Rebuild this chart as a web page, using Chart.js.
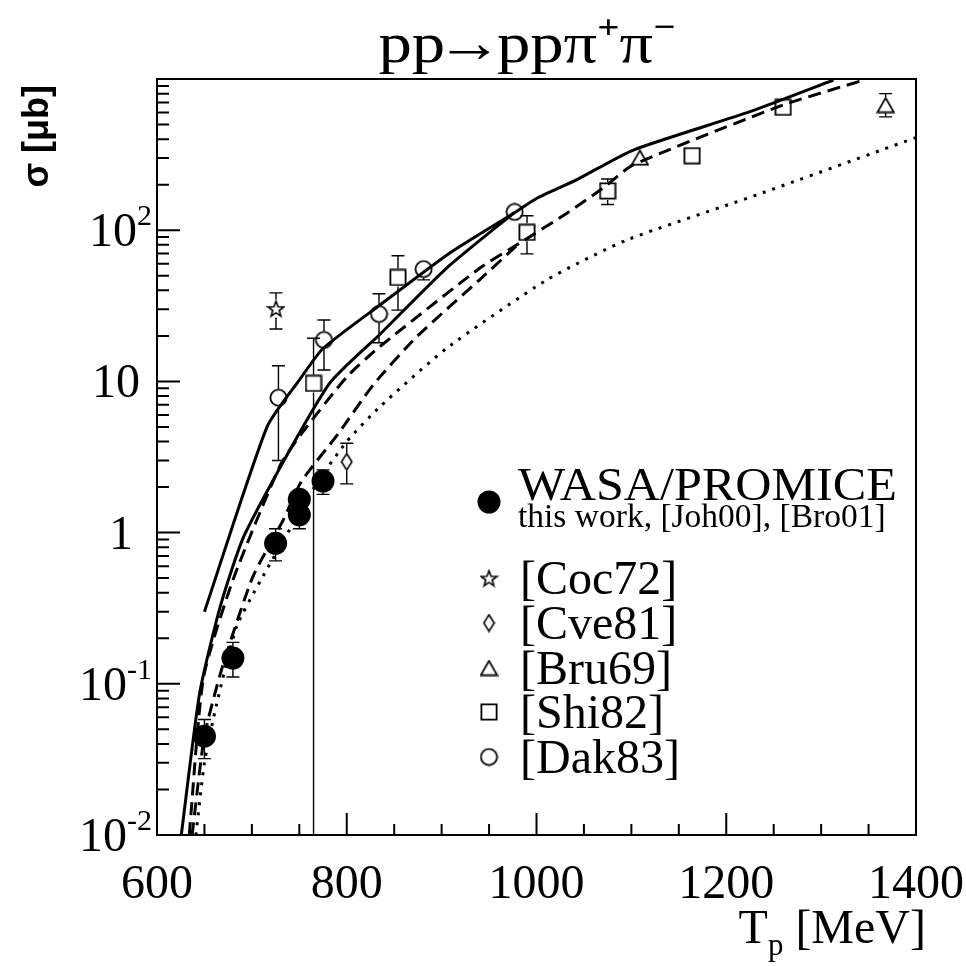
<!DOCTYPE html>
<html>
<head>
<meta charset="utf-8">
<title>pp→ppπ+π− total cross section</title>
<script src="https://cdn.jsdelivr.net/npm/chart.js@4.4.1/dist/chart.umd.min.js"></script>
<style>
  html, body { margin: 0; padding: 0; background: #fff; }
  #wrap { width: 966px; height: 966px; }
</style>
</head>
<body>
<div id="wrap"><canvas id="chart" width="966" height="966"></canvas></div>
<script>
// model curves: beam energy T_p [MeV] and sigma [microbarn]
const solidAT = [650, 716, 750, 775, 835, 909, 978, 1000, 1042, 1102, 1225, 1313];
const solidAV = [0.30, 5.0, 10.2, 16.5, 32, 71, 132, 162, 215, 339, 608, 984];
const solidBT = [625.6, 645, 667, 693, 780.5, 835, 905, 976];
const solidBV = [0.01, 0.087, 0.33, 0.99, 9.46, 20.5, 56, 130];
const dashCT = [634, 649, 680, 730, 751, 800, 835, 940, 982, 1032, 1070, 1102, 1260, 1345];
const dashCV = [0.01, 0.11, 0.485, 2.8, 4.4, 10.7, 17, 56, 82, 129.5, 190, 270, 673, 984];
const dashDT = [637, 650, 669, 701, 733, 752, 791, 828, 874, 940, 982];
const dashDV = [0.01, 0.045, 0.13, 0.51, 1.21, 2.17, 4.5, 9.5, 19.8, 47, 82];
const dotET = [641, 650, 663, 684, 709, 740, 768, 800, 835, 905, 1011, 1095, 1232, 1400];
const dotEV = [0.01, 0.03, 0.074, 0.24, 0.48, 1.05, 2.1, 4.0, 6.8, 16.5, 47, 86, 171, 410];

// data points
const wasaT = [650, 680, 725, 750, 750, 775];
const wasaV = [0.045, 0.148, 0.85, 1.66, 1.31, 2.19];
const wasaLo = [0.032, 0.111, 0.65, 1.5, 1.06, 1.79];
const wasaHi = [0.058, 0.188, 1.06, 1.85, 1.6, 2.6];

const cocT = [725.4];
const cocV = [30.4];
const cocLo = [22.2];
const cocHi = [38.5];

const cveT = [800];
const cveV = [2.94];
const cveLo = [2.1];
const cveHi = [3.9];

const bruT = [1109, 1368];
const bruV = [302, 673];
const bruLo = [290, 562];
const bruHi = [315, 800];

const shiT = [765, 854, 990, 1075, 1164, 1260];
const shiV = [9.7, 48.7, 96.8, 182, 311, 650];
const shiLo = [0.001, 29.6, 69.7, 148, 300, 630];
const shiHi = [19.3, 67.8, 124.5, 218, 325, 670];

const dakT = [728, 776, 834, 881, 977];
const dakV = [7.8, 18.8, 27.9, 55.3, 132];
const dakLo = [3.0, 11.9, 18.0, 46.9, 128];
const dakHi = [12.7, 25.5, 38, 62, 136];

// axes
const xMin = 600, xMax = 1400, xMinorStep = 50;
const xTickLabels = [600, 800, 1000, 1200, 1400];
const yMin = 0.01, yMax = 1000;
const yTickValues = [0.01, 0.1, 1, 10, 100];
const yTickLabels = [['10', '-2'], ['10', '-1'], ['1', ''], ['10', ''], ['10', '2']];

const legendNames = ['[Coc72]', '[Cve81]', '[Bru69]', '[Shi82]', '[Dak83]'];

const SERIF = '"Liberation Serif", "Times New Roman", serif';
const SANS = '"Liberation Sans", Arial, sans-serif';

function pts(xs, ys) { return xs.map((v, i) => ({ x: v, y: ys[i] })); }

function markerCanvas(kind, w, h, lw) {
  const c = document.createElement('canvas');
  c.width = w; c.height = h;
  const g = c.getContext('2d');
  g.lineWidth = lw; g.strokeStyle = '#000';
  const cx = w / 2, cy = h / 2, m = lw / 2 + 0.5;
  g.beginPath();
  if (kind === 'circle') {
    g.arc(cx, cy, w / 2 - m, 0, Math.PI * 2);
  } else if (kind === 'square') {
    g.rect(m, m, w - 2 * m, h - 2 * m);
  } else if (kind === 'triangle') {
    g.moveTo(cx, m); g.lineTo(w - m, h - m); g.lineTo(m, h - m); g.closePath();
  } else if (kind === 'diamond') {
    g.moveTo(cx, m); g.lineTo(w - m, cy); g.lineTo(cx, h - m); g.lineTo(m, cy); g.closePath();
  } else if (kind === 'star') {
    const R = w / 2 - m, r = R * 0.42;
    for (let k = 0; k < 10; k++) {
      const ang = -Math.PI / 2 + k * Math.PI / 5;
      const rr = k % 2 ? r : R;
      g.lineTo(cx + rr * Math.cos(ang), cy + 1 + rr * Math.sin(ang));
    }
    g.closePath();
  }
  g.stroke();
  return c;
}

const mk = {
  circle: markerCanvas('circle', 19, 19, 1.8),
  square: markerCanvas('square', 18, 18, 1.8),
  triangle: markerCanvas('triangle', 19, 17, 1.8),
  diamond: markerCanvas('diamond', 13, 19, 1.6),
  star: markerCanvas('star', 19, 19, 1.6)
};

function curve(xs, ys, dash) {
  return {
    data: pts(xs, ys), showLine: true, borderColor: '#000', borderWidth: 3,
    borderDash: dash, pointRadius: 0, fill: false, tension: 0.2, order: 2
  };
}

function points(xs, ys, lo, hi, style, gap) {
  return {
    data: pts(xs, ys), showLine: false, pointStyle: style, pointRadius: 10,
    borderColor: '#000', backgroundColor: 'rgba(0,0,0,0)', borderWidth: 0,
    errLo: lo, errHi: hi, gap: gap, order: 1
  };
}

const errorBars = {
  id: 'errorBars',
  afterDatasetsDraw(chart) {
    const { ctx, chartArea: a, scales: { x, y } } = chart;
    ctx.save();
    ctx.beginPath();
    ctx.rect(a.left, a.top, a.right - a.left, a.bottom - a.top);
    ctx.clip();
    ctx.strokeStyle = '#000';
    ctx.lineWidth = 1.4;
    chart.data.datasets.forEach(ds => {
      if (!ds.errLo) return;
      ds.data.forEach((p, i) => {
        const px = x.getPixelForValue(p.x), py = y.getPixelForValue(p.y);
        const lo = y.getPixelForValue(ds.errLo[i]), hi = y.getPixelForValue(ds.errHi[i]);
        const g = ds.gap, c = 6.5;
        ctx.beginPath();
        if (lo > py + g) {
          ctx.moveTo(px, py + g); ctx.lineTo(px, lo);
          ctx.moveTo(px - c, lo); ctx.lineTo(px + c, lo);
        }
        if (hi < py - g) {
          ctx.moveTo(px, py - g); ctx.lineTo(px, hi);
          ctx.moveTo(px - c, hi); ctx.lineTo(px + c, hi);
        }
        ctx.stroke();
      });
    });
    ctx.restore();
  }
};

function partAdvance(ctx, p) {
  ctx.font = p.font;
  return ctx.measureText(p.t).width + (p.kern || 0);
}
// draws a run of text pieces (for super/subscripts), sx stretches horizontally
function drawRich(ctx, parts, x, y, align, sx) {
  sx = sx || 1;
  const w = parts.reduce((s, p) => s + partAdvance(ctx, p), 0) * sx;
  const x0 = align === 'right' ? x - w : align === 'center' ? x - w / 2 : x;
  ctx.save();
  ctx.translate(x0, y);
  ctx.scale(sx, 1);
  ctx.textAlign = 'left';
  let cx = 0;
  parts.forEach(p => {
    ctx.font = p.font;
    ctx.fillText(p.t, cx + (p.pre || 0), p.dy || 0);
    cx += partAdvance(ctx, p);
  });
  ctx.restore();
}

const frame = {
  id: 'frame',
  afterDraw(chart) {
    const { ctx, chartArea: a, scales: { x, y } } = chart;
    ctx.save();
    ctx.strokeStyle = '#000';
    ctx.fillStyle = '#000';
    ctx.lineWidth = 2;
    ctx.strokeRect(a.left, a.top, a.right - a.left, a.bottom - a.top);

    // inward ticks
    ctx.beginPath();
    for (let v = xMin; v <= xMax; v += xMinorStep) {
      const px = x.getPixelForValue(v);
      const len = xTickLabels.includes(v) ? 22 : 11;
      ctx.moveTo(px, a.bottom); ctx.lineTo(px, a.bottom - len);
    }
    for (let d = 0.01; d < yMax; d *= 10) {
      for (let m = 1; m <= 9; m++) {
        const v = m * d;
        const py = y.getPixelForValue(v);
        if (py < a.top - 0.5) continue;
        const len = m === 1 ? 23 : 12;
        ctx.moveTo(a.left, py); ctx.lineTo(a.left + len, py);
      }
    }
    ctx.stroke();

    // tick labels
    ctx.textBaseline = 'alphabetic';
    const big = '48px ' + SERIF, sup = '30px ' + SERIF;
    xTickLabels.forEach(v => {
      drawRich(ctx, [{ t: String(v), font: big }], x.getPixelForValue(v), 898, 'center');
    });
    yTickValues.forEach((v, i) => {
      const [base, ex] = yTickLabels[i];
      const py = y.getPixelForValue(v);
      const parts = [{ t: base, font: big }];
      if (ex) parts.push({ t: ex, font: sup, dy: -21 });
      const right = ex ? 152 : (base === '1' ? 133 : 140);
      drawRich(ctx, parts, right, py + 16, 'right');
    });

    // title
    const tf = '58px ' + SERIF, ts = '34px ' + SERIF;
    drawRich(ctx, [
      { t: 'pp', font: tf, kern: -3 },
      { t: '\u2192', font: tf, pre: -5, kern: -10 },
      { t: 'pp\u03c0', font: tf },
      { t: '+', font: 'bold ' + ts, dy: -24 },
      { t: '\u03c0', font: tf },
      { t: '\u2212', font: 'bold ' + ts, dy: -24 }
    ], 527, 62, 'center', 1.15);

    // axis titles
    drawRich(ctx, [
      { t: 'T', font: '48px ' + SERIF },
      { t: 'p', font: '31px ' + SERIF, dy: 12 },
      { t: ' [MeV]', font: '48px ' + SERIF }
    ], 926, 943, 'right');
    ctx.save();
    ctx.translate(48, 85);
    ctx.rotate(-Math.PI / 2);
    drawRich(ctx, [{ t: '\u03c3 [\u03bcb]', font: 'bold 36px ' + SANS }], 0, 0, 'right');
    ctx.restore();

    // legend
    const lx = 489, tx = 518;
    ctx.beginPath();
    ctx.arc(lx, 502, 11.5, 0, Math.PI * 2);
    ctx.fill();
    drawRich(ctx, [{ t: 'WASA/PROMICE', font: '46px ' + SERIF }], tx, 500, 'left', 1.09);
    drawRich(ctx, [{ t: 'this work, [Joh00], [Bro01]', font: '33.5px ' + SERIF }], tx, 527, 'left');
    const legendMarks = [mk.star, mk.diamond, mk.triangle, mk.square, mk.circle];
    const rowY = [578, 623, 668, 712, 757];
    legendNames.forEach((name, i) => {
      const c = legendMarks[i];
      ctx.drawImage(c, lx - c.width / 2, rowY[i] - c.height / 2);
      drawRich(ctx, [{ t: name, font: '48px ' + SERIF }], tx + 2, rowY[i] + 16, 'left');
    });
    ctx.restore();
  }
};

new Chart(document.getElementById('chart'), {
  type: 'scatter',
  data: {
    datasets: [
      curve(solidAT, solidAV, []),
      curve(solidBT, solidBV, []),
      curve(dashCT, dashCV, [13, 7]),
      curve(dashDT, dashDV, [13, 7]),
      curve(dotET, dotEV, [3, 7]),
      {
        data: pts(wasaT, wasaV), showLine: false, pointStyle: 'circle', pointRadius: 11.5,
        backgroundColor: '#000', borderColor: '#000', borderWidth: 0,
        errLo: wasaLo, errHi: wasaHi, gap: 11, order: 1
      },
      points(cocT, cocV, cocLo, cocHi, mk.star, 9),
      points(cveT, cveV, cveLo, cveHi, mk.diamond, 9),
      points(bruT, bruV, bruLo, bruHi, mk.triangle, 8),
      points(shiT, shiV, shiLo, shiHi, mk.square, 9),
      points(dakT, dakV, dakLo, dakHi, mk.circle, 9)
    ]
  },
  options: {
    responsive: false,
    animation: false,
    devicePixelRatio: 1,
    layout: { padding: { left: 157, right: 50, top: 79, bottom: 131 } },
    plugins: { legend: { display: false }, tooltip: { enabled: false }, title: { display: false } },
    scales: {
      x: { type: 'linear', min: xMin, max: xMax, display: false },
      y: { type: 'logarithmic', min: yMin, max: yMax, display: false }
    }
  },
  plugins: [errorBars, frame]
});
</script>
</body>
</html>
